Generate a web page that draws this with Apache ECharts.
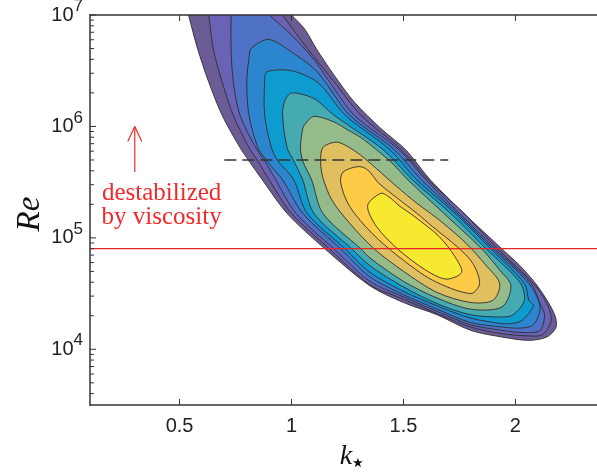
<!DOCTYPE html>
<html>
<head>
<meta charset="utf-8" />
<title>Re - k contours</title>
<script src="https://cdn.jsdelivr.net/npm/echarts@6/dist/echarts.min.js"></script>
<style>html,body{margin:0;padding:0;background:#fff}</style>
</head>
<body>
<div id="chart" style="width:597px;height:472px"></div>
<script>
// axis ticks
var kTicks = [0.5, 1, 1.5, 2];
var reDecades = [4, 5, 6, 7];          // log10(Re) of labelled ticks
var reMinor = [2, 3, 4, 5, 6, 7, 8, 9];

// reference lines / annotation
var redLineRe = 8e4;
var dashK = [0.7, 1.7];
var dashRe = 5e5;
var arrowK = 0.3;
var arrowRe = [3.9e5, 1e6];
var noteK = 0.42;
var noteRe = 1.95e5;

// filled contour levels, outer to inner: [k, log10(Re)]
// (the first three run past the top of the plot and get clipped)
var level1 = [[0.527,7.10],[0.54,7.00],[0.58,6.70],[0.63,6.40],[0.69,6.10],[0.77,5.81],[0.81,5.69],[0.87,5.52],[0.98,5.22],[1.15,4.90],[1.35,4.57],[1.50,4.42],[1.65,4.31],[1.80,4.17],[1.94,4.11],[2.06,4.08],[2.14,4.11],[2.18,4.19],[2.18,4.28],[2.15,4.41],[2.09,4.59],[2.02,4.75],[1.94,4.90],[1.77,5.22],[1.62,5.52],[1.51,5.79],[1.40,5.98],[1.28,6.22],[1.19,6.46],[1.11,6.70],[1.06,6.87],[1.00,7.00],[0.955,7.10]];
var level2 = [[0.62,7.10],[0.63,7.00],[0.65,6.70],[0.69,6.40],[0.74,6.10],[0.81,5.81],[0.85,5.69],[0.90,5.52],[1.00,5.22],[1.17,4.90],[1.35,4.58],[1.50,4.45],[1.65,4.32],[1.80,4.20],[1.94,4.14],[2.06,4.12],[2.12,4.13],[2.16,4.26],[2.14,4.41],[2.08,4.59],[1.92,4.90],[1.77,5.22],[1.61,5.52],[1.49,5.79],[1.31,6.10],[1.19,6.40],[1.07,6.70],[0.96,7.00],[0.925,7.10]];
var level3 = [[0.73,7.10],[0.73,7.00],[0.73,6.70],[0.74,6.40],[0.77,6.10],[0.84,5.81],[0.88,5.69],[0.93,5.52],[1.02,5.22],[1.19,4.90],[1.35,4.61],[1.50,4.47],[1.65,4.34],[1.80,4.22],[1.94,4.17],[2.04,4.15],[2.11,4.17],[2.13,4.31],[2.11,4.41],[2.07,4.59],[1.91,4.90],[1.75,5.22],[1.60,5.52],[1.48,5.79],[1.28,6.10],[1.17,6.40],[1.10,6.60],[1.00,6.82],[0.90,7.00],[0.85,7.10]];
var level4 = [[0.90,6.78],[0.82,6.70],[0.81,6.61],[0.80,6.40],[0.81,6.10],[0.85,5.81],[0.89,5.69],[0.96,5.52],[1.05,5.22],[1.22,4.90],[1.35,4.65],[1.50,4.49],[1.65,4.36],[1.80,4.24],[1.94,4.20],[2.02,4.19],[2.08,4.22],[2.11,4.38],[2.06,4.59],[1.90,4.90],[1.74,5.22],[1.58,5.52],[1.46,5.79],[1.26,6.10],[1.15,6.40],[1.10,6.52],[1.02,6.64]];
var level5 = [[0.89,6.49],[0.88,6.40],[0.88,6.10],[0.91,5.81],[0.94,5.69],[1.01,5.52],[1.07,5.22],[1.24,4.90],[1.35,4.69],[1.50,4.52],[1.65,4.39],[1.80,4.28],[1.94,4.23],[1.98,4.23],[2.03,4.26],[2.08,4.39],[2.06,4.44],[2.04,4.59],[1.89,4.90],[1.73,5.22],[1.56,5.52],[1.44,5.79],[1.24,6.10],[1.12,6.39],[1.00,6.50]];
var level6 = [[1.00,6.30],[0.97,6.23],[0.96,6.10],[0.98,5.81],[1.01,5.69],[1.05,5.52],[1.10,5.22],[1.27,4.90],[1.35,4.75],[1.50,4.56],[1.65,4.41],[1.80,4.31],[1.94,4.29],[1.99,4.31],[2.04,4.44],[2.02,4.60],[1.87,4.90],[1.71,5.22],[1.54,5.52],[1.41,5.79],[1.19,6.10],[1.10,6.25]];
var level7 = [[1.10,6.09],[1.06,6.02],[1.05,5.98],[1.04,5.81],[1.05,5.69],[1.09,5.52],[1.14,5.22],[1.31,4.90],[1.35,4.82],[1.50,4.61],[1.65,4.46],[1.80,4.36],[1.94,4.38],[1.98,4.57],[1.93,4.71],[1.85,4.90],[1.68,5.22],[1.52,5.52],[1.45,5.67],[1.38,5.79],[1.31,5.90],[1.25,5.97],[1.19,6.04]];
var level8 = [[1.20,5.86],[1.14,5.81],[1.13,5.68],[1.14,5.54],[1.18,5.34],[1.26,5.13],[1.37,4.90],[1.50,4.70],[1.65,4.51],[1.80,4.42],[1.90,4.44],[1.93,4.59],[1.87,4.75],[1.78,4.95],[1.66,5.16],[1.56,5.31],[1.47,5.46],[1.38,5.62],[1.31,5.74],[1.25,5.82]];
var level9 = [[1.30,5.64],[1.23,5.59],[1.22,5.49],[1.26,5.28],[1.36,5.04],[1.48,4.83],[1.63,4.62],[1.80,4.50],[1.84,4.59],[1.81,4.77],[1.74,4.92],[1.63,5.10],[1.56,5.22],[1.47,5.36],[1.39,5.49],[1.34,5.61]];
var level10 = [[1.40,5.40],[1.34,5.29],[1.38,5.10],[1.48,4.89],[1.60,4.71],[1.69,4.63],[1.76,4.69],[1.73,4.83],[1.66,5.01],[1.55,5.19],[1.48,5.29],[1.44,5.36]];

var levels = [level1, level2, level3, level4, level5, level6, level7, level8, level9, level10];
var levelColors = ['#6c5c95', '#6a62b4', '#4f72c6', '#2c86cf', '#0e9bd0', '#45aab2', '#96bb8b', '#dfbf5f', '#fdcb46', '#f6e92f'];

var kMin = 0.1, kMax = 2.4, yMin = 3.5, yMax = 7;
var axisColor = '#333';
var sans = 'Liberation Sans, Arial, sans-serif';
var serif = 'Liberation Serif, Times New Roman, serif';

function seg(x1, y1, x2, y2, color, w) {
	return { type: 'line', shape: { x1: x1, y1: y1, x2: x2, y2: y2 }, style: { stroke: color, lineWidth: w } };
}

var chart = echarts.init(document.getElementById('chart'), null, { renderer: 'canvas' });

var option = {
	animation: false,
	backgroundColor: '#fff',
	grid: { left: 90, top: 15, width: 515, height: 390, containLabel: false, outerBoundsMode: 'none' },
	// axis titles
	graphic: [
		{ type: 'text', x: 30, y: 214, rotation: Math.PI / 2,
			style: { text: 'Re', font: 'italic 33px ' + serif, fill: '#111', align: 'center', verticalAlign: 'middle' } },
		{ type: 'text', x: 346, y: 457,
			style: { text: 'k', font: 'italic 28px ' + serif, fill: '#111', align: 'center', verticalAlign: 'middle' } },
		{ type: 'text', x: 358, y: 464,
			style: { text: '\u22c6', font: '26px DejaVu Sans', fill: '#111', align: 'center', verticalAlign: 'middle' } }
	],
	xAxis: [{
		type: 'value', min: kMin, max: kMax, interval: 0.1, z: 10,
		axisLine: { onZero: false, lineStyle: { color: axisColor, width: 1.5 } },
		axisTick: { show: false },
		splitLine: { show: false },
		axisLabel: {
			margin: 11, fontSize: 20, lineHeight: 20, fontFamily: sans, color: '#222',
			formatter: function (v) {
				for (var i = 0; i < kTicks.length; i++) {
					if (Math.abs(v - kTicks[i]) < 1e-6) return String(kTicks[i]);
				}
				return '';
			}
		}
	}, {
		type: 'value', position: 'top', min: kMin, max: kMax, z: 10,
		axisLine: { onZero: false, lineStyle: { color: axisColor, width: 1.5 } },
		axisTick: { show: false }, axisLabel: { show: false }, splitLine: { show: false }
	}],
	yAxis: {
		type: 'value', min: yMin, max: yMax, interval: 0.5, z: 10,
		axisLine: { onZero: false, lineStyle: { color: axisColor, width: 1.5 } },
		axisTick: { show: false },
		splitLine: { show: false },
		axisLabel: {
			margin: 7,
			formatter: function (v) {
				if (Math.abs(v - Math.round(v)) > 1e-6) return '';
				return '{b|10}{s|' + Math.round(v) + '}';
			},
			rich: {
				b: { fontSize: 20, lineHeight: 20, fontFamily: sans, color: '#222', verticalAlign: 'bottom', padding: [14, 0, 0, 0] },
				s: { fontSize: 17, lineHeight: 17, fontFamily: sans, color: '#222', verticalAlign: 'bottom', padding: [0, 0, 10, 0] }
			}
		}
	},
	series: [{
		// filled contours
		type: 'custom', coordinateSystem: 'cartesian2d', clip: true, silent: true, z: 2,
		data: levels.map(function (lv) { return lv[1]; }),
		renderItem: function (params, api) {
			var i = params.dataIndex;
			return {
				type: 'polygon', z2: i,
				shape: { points: levels[i].map(function (p) { return api.coord(p); }), smooth: 0.3 },
				style: { fill: levelColors[i], stroke: '#2e2e2e', lineWidth: 0.9 }
			};
		}
	}, {
		type: 'line', silent: true, z: 5, symbol: 'none',
		data: [[kMin, Math.log10(redLineRe)], [kMax, Math.log10(redLineRe)]],
		lineStyle: { color: '#e8242b', width: 1.2 }
	}, {
		type: 'line', silent: true, z: 5, symbol: 'none',
		data: [[dashK[0], Math.log10(dashRe)], [dashK[1], Math.log10(dashRe)]],
		lineStyle: { color: '#333', width: 1.5, type: [12, 6] }
	}, {
		// arrow
		type: 'custom', silent: true, z: 5,
		data: [[arrowK, Math.log10(arrowRe[0]), Math.log10(arrowRe[1])]],
		encode: { x: 0, y: [1, 2] },
		renderItem: function (params, api) {
			var a = api.coord([api.value(0), api.value(1)]);
			var b = api.coord([api.value(0), api.value(2)]);
			return { type: 'group', children: [
				seg(a[0], a[1], b[0], b[1], '#ee2a2a', 1.2),
				seg(b[0], b[1], b[0] - 7, b[1] + 15, '#ee2a2a', 1.2),
				seg(b[0], b[1], b[0] + 7, b[1] + 15, '#ee2a2a', 1.2)
			] };
		}
	}, {
		// annotation
		type: 'custom', silent: true, z: 5,
		data: [[noteK, Math.log10(noteRe)]],
		renderItem: function (params, api) {
			var p = api.coord([api.value(0), api.value(1)]);
			return {
				type: 'text', x: p[0], y: p[1],
				style: { text: 'destabilized\nby viscosity', fill: '#ee2a2a', font: '25px ' + serif, lineHeight: 24, align: 'center', verticalAlign: 'middle' }
			};
		}
	}, {
		// inward axis ticks, drawn over the fill
		type: 'custom', silent: true, z: 20, clip: false,
		data: [[kMin, yMin]],
		renderItem: function (params, api) {
			var cs = params.coordSys;
			var top = cs.y, bottom = cs.y + cs.height, left = cs.x;
			var kids = [];
			kTicks.forEach(function (k) {
				var x = api.coord([k, yMin])[0];
				kids.push(seg(x, bottom, x, bottom - 6, axisColor, 1));
				kids.push(seg(x, top, x, top + 6, axisColor, 1));
			});
			reDecades.forEach(function (d) {
				var y = api.coord([kMin, d])[1];
				kids.push(seg(left, y, left + 6, y, axisColor, 1));
				reMinor.forEach(function (m) {
					var v = d - 1 + Math.log10(m);
					if (v > yMin && v < yMax) {
						var ym = api.coord([kMin, v])[1];
						kids.push(seg(left, ym, left + 4, ym, axisColor, 1));
					}
				});
			});
			return { type: 'group', children: kids };
		}
	}]
};

chart.setOption(option);
</script>
</body>
</html>
